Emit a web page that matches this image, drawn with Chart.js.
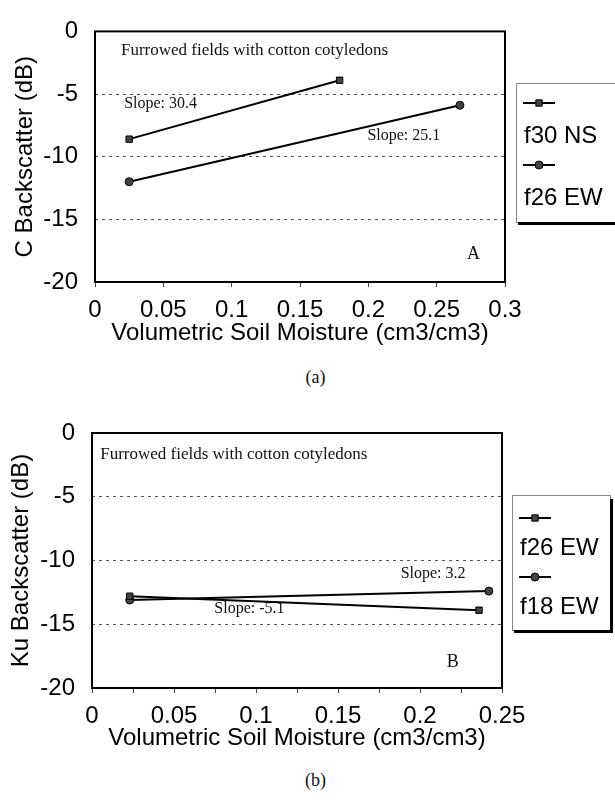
<!DOCTYPE html>
<html lang="en">
<head>
<meta charset="UTF-8">
<title>Backscatter vs Soil Moisture</title>
<script src="https://cdn.jsdelivr.net/npm/chart.js"></script>
<style>
    body {
        margin: 0;
        background: #fff;
        width: 615px;
        height: 800px;
        position: relative;
        overflow: hidden;
    }

    .wrap {
        position: absolute;
        left: 0;
        width: 615px;
    }

    #wrapA { top: 0; }
    #wrapB { top: 400px; }

    .caption {
        position: absolute;
        left: 8px;
        width: 615px;
        text-align: center;
        font: 18px "Liberation Serif", serif;
        line-height: 22px;
        color: #111;
    }
</style>
</head>
<body>

<div class="wrap" id="wrapA"><canvas id="chartA" width="615" height="350"></canvas></div>
<div class="caption" style="top: 366px;">(a)</div>

<div class="wrap" id="wrapB"><canvas id="chartB" width="615" height="355"></canvas></div>
<div class="caption" style="top: 769px;">(b)</div>

<script>
    // C band: moisture (cm3/cm3) and backscatter (dB) per field
    const moistureA_f30 = [0.025, 0.179];
    const backscatterA_f30 = [-8.6, -3.9];
    const moistureA_f26 = [0.025, 0.267];
    const backscatterA_f26 = [-12.0, -5.9];

    // Ku band
    const moistureB_f26 = [0.023, 0.236];
    const backscatterB_f26 = [-12.8, -13.9];
    const moistureB_f18 = [0.023, 0.242];
    const backscatterB_f18 = [-13.1, -12.4];

    const sans = 'Liberation Sans';
    const serif = 'Liberation Serif';

    function toPoints(xs, ys) {
        return xs.map((x, i) => ({ x: x, y: ys[i] }));
    }

    function series(label, xs, ys, style) {
        return {
            label: label,
            data: toPoints(xs, ys),
            borderColor: '#000',
            borderWidth: 2,
            pointStyle: style,
            pointRadius: style === 'rect' ? 4.5 : 4,
            pointBackgroundColor: '#444',
            pointBorderColor: '#000',
            pointBorderWidth: 1,
            fill: false,
            tension: 0
        };
    }

    // plot frame around the chart area
    const framePlugin = {
        id: 'frame',
        beforeDatasetsDraw(chart) {
            const { ctx, chartArea: a } = chart;
            ctx.save();
            ctx.strokeStyle = '#000';
            ctx.lineWidth = 2;
            ctx.strokeRect(a.left, a.top, a.width, a.height);
            ctx.restore();
        }
    };

    // text notes placed in data coordinates
    const notesPlugin = {
        id: 'notes',
        afterDatasetsDraw(chart, args, opts) {
            const { ctx, scales } = chart;
            ctx.save();
            ctx.fillStyle = '#111';
            ctx.textBaseline = 'middle';
            (opts.items || []).forEach(n => {
                ctx.font = n.font;
                ctx.textAlign = n.align || 'center';
                ctx.fillText(n.text, scales.x.getPixelForValue(n.x), scales.y.getPixelForValue(n.y));
            });
            ctx.restore();
        }
    };

    // boxed legend: sample line above each label, heavy shadow edge
    const boxLegendPlugin = {
        id: 'boxLegend',
        afterDraw(chart, args, opts) {
            const { ctx, chartArea: a } = chart;
            const left = Math.round(a.right + opts.gap);
            const top = opts.top, w = opts.width, h = opts.height;
            ctx.save();
            ctx.strokeStyle = '#888';
            ctx.lineWidth = 1;
            ctx.strokeRect(left + 0.5, top + 0.5, w, h);
            ctx.strokeStyle = '#000';
            ctx.lineWidth = 3;
            ctx.beginPath();
            ctx.moveTo(left + 2, top + h + 1.5);
            ctx.lineTo(left + w + 1.5, top + h + 1.5);
            ctx.lineTo(left + w + 1.5, top + 4);
            ctx.stroke();

            chart.data.datasets.forEach((ds, i) => {
                const sy = top + opts.first + i * opts.pitch;
                ctx.strokeStyle = '#000';
                ctx.lineWidth = 2;
                ctx.beginPath();
                ctx.moveTo(left + 7, sy);
                ctx.lineTo(left + 39, sy);
                ctx.stroke();
                ctx.fillStyle = ds.pointBackgroundColor;
                ctx.lineWidth = 1;
                Chart.helpers.drawPoint(ctx, {
                    pointStyle: ds.pointStyle,
                    radius: ds.pointRadius,
                    rotation: 0,
                    borderWidth: 1
                }, left + 23, sy);

                ctx.fillStyle = '#000';
                ctx.font = '24px "' + sans + '"';
                ctx.textAlign = 'left';
                ctx.textBaseline = 'middle';
                ctx.fillText(ds.label, left + 8, sy + opts.textGap);
            });
            ctx.restore();
        }
    };

    function fmt(v) {
        return String(Math.round(v * 1000) / 1000);
    }

    function yScale(title, width, titlePad) {
        return {
            min: -20,
            max: 0,
            ticks: { stepSize: 5, padding: 17, color: '#000', font: { family: sans, size: 24 } },
            grid: {
                drawTicks: false,
                lineWidth: 1,
                color: c => (c.tick.value === 0 || c.tick.value === -20) ? 'rgba(0,0,0,0)' : '#555'
            },
            border: { display: false, dash: [3, 4] },
            title: {
                display: true,
                text: title,
                color: '#000',
                font: { family: sans, size: 24 },
                padding: { top: titlePad, bottom: 0 }
            },
            afterFit: s => { s.width = width; }
        };
    }

    function xScale(max, step, labelStep, height) {
        return {
            type: 'linear',
            min: 0,
            max: max,
            ticks: {
                stepSize: step,
                padding: 9,
                color: '#000',
                autoSkip: false,
                maxRotation: 0,
                font: { family: sans, size: 24 },
                callback: v => (Math.round(v * 1000) % Math.round(labelStep * 1000) === 0) ? fmt(v) : ''
            },
            grid: { drawOnChartArea: false, tickLength: 5, color: '#444' },
            border: { display: false },
            title: {
                display: true,
                text: 'Volumetric Soil Moisture (cm3/cm3)',
                color: '#000',
                font: { family: sans, size: 24 },
                padding: { top: 0, bottom: 2 }
            },
            afterFit: s => { s.height = height; }
        };
    }

    const baseOptions = {
        responsive: false,
        animation: false,
        events: []
    };

    // (a) C band
    new Chart(document.getElementById('chartA').getContext('2d'), {
        type: 'line',
        data: {
            datasets: [
                series('f30 NS', moistureA_f30, backscatterA_f30, 'rect'),
                series('f26 EW', moistureA_f26, backscatterA_f26, 'circle')
            ]
        },
        options: Object.assign({}, baseOptions, {
            layout: { padding: { top: 22, right: 110, left: 0, bottom: 0 } },
            scales: {
                x: xScale(0.3, 0.05, 0.05, 68),
                y: yScale('C Backscatter (dB)', 95, 11)
            },
            plugins: {
                legend: { display: false },
                tooltip: { enabled: false },
                boxLegend: { gap: 11, top: 83, width: 130, height: 139, first: 20, pitch: 62, textGap: 33 },
                notes: {
                    items: [
                        { text: 'Furrowed fields with cotton cotyledons', x: 0.019, y: -1.55, align: 'left', font: '17px "' + serif + '"' },
                        { text: 'Slope: 30.4', x: 0.048, y: -5.8, font: '16px "' + serif + '"' },
                        { text: 'Slope: 25.1', x: 0.226, y: -8.3, font: '16px "' + serif + '"' },
                        { text: 'A', x: 0.277, y: -17.8, font: '18px "' + serif + '"' }
                    ]
                }
            }
        }),
        plugins: [framePlugin, notesPlugin, boxLegendPlugin]
    });

    // (b) Ku band
    new Chart(document.getElementById('chartB').getContext('2d'), {
        type: 'line',
        data: {
            datasets: [
                series('f26 EW', moistureB_f26, backscatterB_f26, 'rect'),
                series('f18 EW', moistureB_f18, backscatterB_f18, 'circle')
            ]
        },
        options: Object.assign({}, baseOptions, {
            layout: { padding: { top: 33, right: 113, left: 0, bottom: 0 } },
            scales: {
                x: xScale(0.25, 0.025, 0.05, 67),
                y: yScale('Ku Backscatter (dB)', 92, 7)
            },
            plugins: {
                legend: { display: false },
                tooltip: { enabled: false },
                boxLegend: { gap: 10, top: 95, width: 98, height: 135, first: 23, pitch: 59, textGap: 30 },
                notes: {
                    items: [
                        { text: 'Furrowed fields with cotton cotyledons', x: 0.005, y: -1.7, align: 'left', font: '17px "' + serif + '"' },
                        { text: 'Slope: 3.2', x: 0.208, y: -11.05, font: '16px "' + serif + '"' },
                        { text: 'Slope: -5.1', x: 0.096, y: -13.75, font: '16px "' + serif + '"' },
                        { text: 'B', x: 0.220, y: -17.95, font: '18px "' + serif + '"' }
                    ]
                }
            }
        }),
        plugins: [framePlugin, notesPlugin, boxLegendPlugin]
    });
</script>
</body>
</html>
